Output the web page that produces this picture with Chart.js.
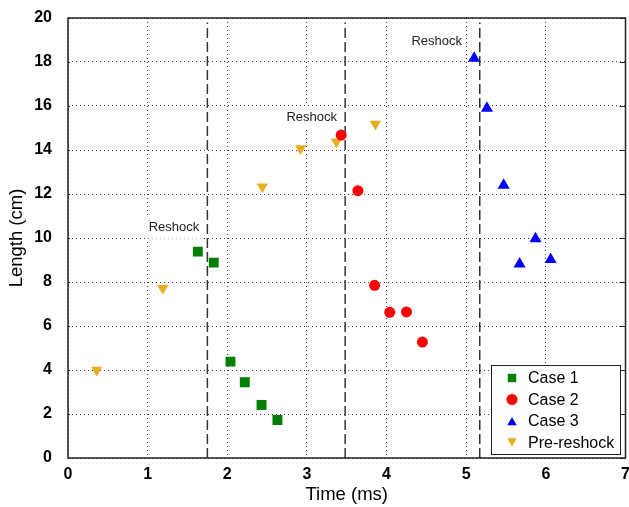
<!DOCTYPE html>
<html>
<head>
<meta charset="utf-8">
<script src="https://cdn.jsdelivr.net/npm/chart.js@4.4.0/dist/chart.umd.min.js"></script>
<style>body{margin:0;background:#fff}</style>
</head>
<body>
<canvas id="c" width="629" height="507"></canvas>
<script>
// data (time in ms, length in cm)
const case1Time = [1.63, 1.83, 2.04, 2.22, 2.43, 2.63];
const case1Length = [9.38, 8.88, 4.38, 3.44, 2.41, 1.73];
const case2Time = [3.43, 3.64, 3.85, 4.04, 4.25, 4.45];
const case2Length = [14.68, 12.15, 7.85, 6.62, 6.64, 5.27];
const case3Time = [5.10, 5.26, 5.47, 5.87, 5.67, 6.06];
const case3Length = [18.17, 15.9, 12.4, 9.97, 8.82, 9.02];
const preTime = [0.36, 1.19, 2.44, 2.92, 3.37, 3.86];
const preLength = [4.0, 7.72, 12.33, 14.07, 14.38, 15.18];

const reshockTimes = [1.75, 3.48, 5.17];
const reshockTop = 19.8;
const labelTime = [1.33, 3.06, 4.63];
const labelLength = [10.47, 15.5, 18.94];

const seriesNames = ['Case 1', 'Case 2', 'Case 3', 'Pre-reshock'];
const seriesColors = ['#008000', '#ff0000', '#0000ff', '#eaad1e'];

const FONT = "'Liberation Sans', Arial, sans-serif";
const PLOT_RIGHT = 625.5;

function pts(xs, ys) {
  return xs.map((x, i) => ({ x: x, y: ys[i] }));
}

const markerSets = [
  { data: pts(case1Time, case1Length), pointStyle: 'rect', pointRadius: 7, rotation: 0 },
  { data: pts(case2Time, case2Length), pointStyle: 'circle', pointRadius: 5.5, rotation: 0 },
  { data: pts(case3Time, case3Length), pointStyle: 'triangle', pointRadius: 7, rotation: 0 },
  { data: pts(preTime, preLength), pointStyle: 'triangle', pointRadius: 6.5, rotation: 180 },
].map((d, i) => ({
  type: 'scatter',
  label: seriesNames[i],
  data: d.data,
  pointStyle: d.pointStyle,
  pointRadius: d.pointRadius,
  pointRotation: d.rotation,
  backgroundColor: seriesColors[i],
  borderColor: seriesColors[i],
  borderWidth: 0,
}));

const reshockSets = reshockTimes.map(t => ({
  type: 'line',
  label: 'reshock',
  data: [{ x: t, y: 0 }, { x: t, y: reshockTop }],
  borderColor: '#333',
  borderWidth: 1.5,
  borderDash: [10, 4],
  pointRadius: 0,
  fill: false,
}));

// legend marker drawing
function marker(ctx, style, x, y, r, rot) {
  ctx.beginPath();
  if (style === 'rect') {
    const s = r * Math.SQRT1_2;
    ctx.rect(x - s, y - s, 2 * s, 2 * s);
  } else if (style === 'circle') {
    ctx.arc(x, y, r, 0, Math.PI * 2);
  } else {
    const d = rot ? -1 : 1;
    ctx.moveTo(x, y - d * r);
    ctx.lineTo(x + r * 0.866, y + d * r / 2);
    ctx.lineTo(x - r * 0.866, y + d * r / 2);
    ctx.closePath();
  }
  ctx.fill();
}

const frame = {
  id: 'frame',
  afterLayout(chart) {
    // stretch plot to the right edge like the original figure
    const x = chart.scales.x;
    chart.chartArea.right = PLOT_RIGHT;
    chart.chartArea.width = PLOT_RIGHT - chart.chartArea.left;
    x.right = PLOT_RIGHT;
    x.width = PLOT_RIGHT - x.left;
    x.configure();
  },
  beforeDatasetsDraw(chart) {
    const { ctx, scales: { x, y } } = chart;
    ctx.save();
    ctx.font = '13px ' + FONT;
    ctx.textAlign = 'center';
    ctx.textBaseline = 'middle';
    labelTime.forEach((t, i) => {
      const px = x.getPixelForValue(t);
      const py = y.getPixelForValue(labelLength[i]);
      const w = ctx.measureText('Reshock').width;
      ctx.fillStyle = '#fff';
      ctx.fillRect(px - w / 2 - 3, py - 11, w + 6, 22);
      ctx.fillStyle = '#222';
      ctx.fillText('Reshock', px, py);
    });
    ctx.restore();
  },
  afterDraw(chart) {
    const { ctx, chartArea: a, scales: { y } } = chart;
    ctx.save();
    ctx.strokeStyle = '#222';
    ctx.lineWidth = 1.5;
    ctx.strokeRect(a.left, a.top, a.right - a.left, a.bottom - a.top);
    // small inward ticks, right side longer
    ctx.lineWidth = 1;
    y.ticks.forEach(t => {
      const py = Math.round(y.getPixelForValue(t.value)) + 0.5;
      ctx.beginPath();
      ctx.moveTo(a.right, py);
      ctx.lineTo(a.right - 6, py);
      ctx.moveTo(a.left, py);
      ctx.lineTo(a.left + 2, py);
      ctx.stroke();
    });
    // legend box
    const lx = 491, ly = 365, lw = 129, lh = 89;
    ctx.fillStyle = '#fff';
    ctx.fillRect(lx, ly, lw, lh);
    ctx.strokeStyle = '#222';
    ctx.lineWidth = 1;
    ctx.strokeRect(lx + 0.5, ly + 0.5, lw, lh);
    ctx.font = '16px ' + FONT;
    ctx.textAlign = 'left';
    ctx.textBaseline = 'middle';
    markerSets.forEach((ds, i) => {
      const ry = ly + 13 + i * 21.5;
      ctx.fillStyle = ds.backgroundColor;
      const r = ds.pointStyle === 'rect' ? 6 : 5.5;
      const cy = ds.pointStyle === 'triangle' ? ry + (ds.pointRotation ? -1.5 : 1.5) : ry;
      marker(ctx, ds.pointStyle, 512, cy, r, ds.pointRotation);
      ctx.fillStyle = '#000';
      ctx.fillText(ds.label, 528, ry + 1);
    });
    ctx.restore();
  }
};

new Chart(document.getElementById('c'), {
  type: 'scatter',
  data: { datasets: markerSets.concat(reshockSets) },
  options: {
    responsive: false,
    animation: false,
    layout: { padding: { top: 18, right: 2, left: 0, bottom: 0 } },
    plugins: { legend: { display: false }, tooltip: { enabled: false } },
    scales: {
      x: {
        type: 'linear',
        min: 0, max: 7,
        afterFit(s) { s.height = 49; s.paddingLeft = 0; s.paddingRight = 0; },
        ticks: { stepSize: 1, padding: 7, color: '#000', font: { family: FONT, size: 16, weight: 'bold' } },
        grid: { color: 'rgba(0,0,0,0.75)', drawTicks: false, lineWidth: 1 },
        border: { display: false, dash: [1, 3] },
        title: { display: true, text: 'Time (ms)', color: '#000', padding: { top: 0, bottom: 1 }, font: { family: FONT, size: 18.5 } },
      },
      y: {
        min: 0, max: 20,
        afterFit(s) { s.width = 68; s.paddingTop = 0; s.paddingBottom = 0; },
        ticks: { stepSize: 2, padding: 16, color: '#000', font: { family: FONT, size: 16, weight: 'bold' } },
        grid: { color: 'rgba(0,0,0,0.75)', drawTicks: false, lineWidth: 1 },
        border: { display: false, dash: [1, 3] },
        title: { display: true, text: 'Length (cm)', color: '#000', padding: { top: 6, bottom: 0 }, font: { family: FONT, size: 18.5 } },
      },
    },
  },
  plugins: [frame],
});
</script>
</body>
</html>
